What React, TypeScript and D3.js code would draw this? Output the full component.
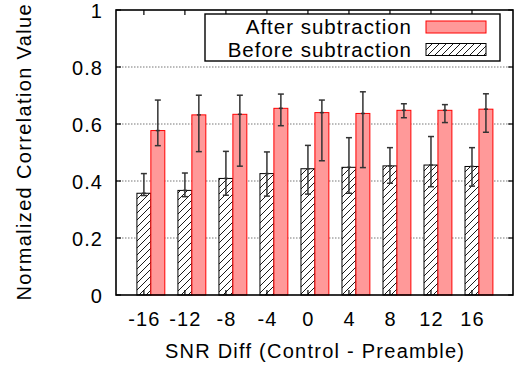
import { useEffect, useRef } from "react";
import * as d3 from "d3";

const categories = ["-16", "-12", "-8", "-4", "0", "4", "8", "12", "16"];

// after subtraction (red bars)
const afterValues = [0.577, 0.632, 0.634, 0.655, 0.64, 0.637, 0.648, 0.648, 0.652];
const afterLow = [0.524, 0.503, 0.452, 0.594, 0.471, 0.447, 0.622, 0.605, 0.571];
const afterHigh = [0.684, 0.701, 0.701, 0.705, 0.684, 0.713, 0.671, 0.668, 0.706];

// before subtraction (hatched bars)
const beforeValues = [0.357, 0.367, 0.409, 0.426, 0.443, 0.448, 0.453, 0.456, 0.451];
const beforeLow = [0.349, 0.345, 0.35, 0.347, 0.354, 0.357, 0.392, 0.38, 0.382];
const beforeHigh = [0.426, 0.428, 0.504, 0.502, 0.525, 0.552, 0.517, 0.556, 0.517];

const yTicks = [0, 0.2, 0.4, 0.6, 0.8, 1];
const gridTicks = [0.2, 0.4, 0.6, 0.8];

const FONT = "'Liberation Sans', Arial, Helvetica, sans-serif";

export default function App() {
  const svgRef = useRef<SVGSVGElement>(null);

  useEffect(() => {
    if (!svgRef.current) return;
    const svg = d3.select(svgRef.current);
    svg.selectAll("*").remove();

    const left = 116;
    const right = 513;
    const top = 10;
    const bottom = 295;
    const barW = 0.34;

    const x = d3.scaleLinear().domain([-0.68, 9]).range([left, right]);
    const y = d3.scaleLinear().domain([0, 1]).range([bottom, top]);
    const bw = x(barW) - x(0);

    const defs = svg.append("defs");
    const pat = defs
      .append("pattern")
      .attr("id", "hatch")
      .attr("patternUnits", "userSpaceOnUse")
      .attr("width", 7)
      .attr("height", 7);
    pat.append("rect").attr("width", 7).attr("height", 7).attr("fill", "#fff");
    pat
      .append("path")
      .attr("d", "M-1,1 l2,-2 M0,7 l7,-7 M6,8 l2,-2")
      .attr("stroke", "#000")
      .attr("stroke-width", 0.9);

    // grid
    svg
      .selectAll(".grid")
      .data(gridTicks)
      .join("line")
      .attr("x1", left)
      .attr("x2", right)
      .attr("y1", (d) => y(d))
      .attr("y2", (d) => y(d))
      .attr("stroke", "#777")
      .attr("stroke-width", 1)
      .attr("stroke-dasharray", "1.5,1.5");

    const idx = categories.map((_, i) => i);

    // before bars (hatched)
    svg
      .selectAll(".before")
      .data(idx)
      .join("rect")
      .attr("x", (i) => x(i) - bw / 2)
      .attr("y", (i) => y(beforeValues[i]))
      .attr("width", bw)
      .attr("height", (i) => bottom - y(beforeValues[i]))
      .attr("fill", "url(#hatch)")
      .attr("stroke", "#000")
      .attr("stroke-width", 1);

    // after bars (red)
    svg
      .selectAll(".after")
      .data(idx)
      .join("rect")
      .attr("x", (i) => x(i) + bw / 2)
      .attr("y", (i) => y(afterValues[i]))
      .attr("width", bw)
      .attr("height", (i) => bottom - y(afterValues[i]))
      .attr("fill", "#ff9999")
      .attr("stroke", "#ff0000")
      .attr("stroke-width", 1);

    const errorBars = (
      cx: (i: number) => number,
      vals: number[],
      lo: number[],
      hi: number[]
    ) => {
      const g = svg.append("g").attr("stroke", "#333").attr("stroke-width", 1.5);
      idx.forEach((i) => {
        const c = cx(i);
        g.append("line").attr("x1", c).attr("x2", c).attr("y1", y(lo[i])).attr("y2", y(hi[i]));
        g.append("line").attr("x1", c - 3).attr("x2", c + 3).attr("y1", y(lo[i])).attr("y2", y(lo[i]));
        g.append("line").attr("x1", c - 3).attr("x2", c + 3).attr("y1", y(hi[i])).attr("y2", y(hi[i]));
        g.append("line").attr("x1", c - 2).attr("x2", c + 2).attr("y1", y(vals[i])).attr("y2", y(vals[i]));
      });
    };
    errorBars((i) => x(i), beforeValues, beforeLow, beforeHigh);
    errorBars((i) => x(i) + bw, afterValues, afterLow, afterHigh);

    // ticks (inward, all sides)
    const tk = svg.append("g").attr("stroke", "#000").attr("stroke-width", 1.2);
    yTicks.forEach((t) => {
      tk.append("line").attr("x1", left).attr("x2", left + 5).attr("y1", y(t)).attr("y2", y(t));
      tk.append("line").attr("x1", right).attr("x2", right - 5).attr("y1", y(t)).attr("y2", y(t));
    });
    idx.forEach((i) => {
      tk.append("line").attr("x1", x(i)).attr("x2", x(i)).attr("y1", bottom).attr("y2", bottom - 5);
      tk.append("line").attr("x1", x(i)).attr("x2", x(i)).attr("y1", top).attr("y2", top + 5);
    });

    // frame
    svg
      .append("rect")
      .attr("x", left)
      .attr("y", top)
      .attr("width", right - left)
      .attr("height", bottom - top)
      .attr("fill", "none")
      .attr("stroke", "#000")
      .attr("stroke-width", 1.6);

    const ls = 1.1;

    // tick labels
    svg
      .selectAll(".ylab")
      .data(yTicks)
      .join("text")
      .attr("x", 102 + ls)
      .attr("y", (d) => y(d) + 7.5)
      .attr("text-anchor", "end")
      .attr("font-family", FONT)
      .attr("font-size", 20)
      .attr("letter-spacing", ls)
      .attr("fill", "#000")
      .text((d) => (d === 0 || d === 1 ? String(d) : d.toFixed(1)));

    svg
      .selectAll(".xlab")
      .data(idx)
      .join("text")
      .attr("x", (i) => x(i) + ls / 2)
      .attr("y", 326)
      .attr("text-anchor", "middle")
      .attr("font-family", FONT)
      .attr("font-size", 20)
      .attr("letter-spacing", ls)
      .attr("fill", "#000")
      .text((i) => categories[i]);

    // axis titles
    svg
      .append("text")
      .attr("x", (left + right) / 2 + 0.6)
      .attr("y", 358)
      .attr("text-anchor", "middle")
      .attr("font-family", FONT)
      .attr("font-size", 20)
      .attr("letter-spacing", 1.25)
      .text("SNR Diff (Control - Preamble)");

    svg
      .append("text")
      .attr("transform", `translate(31,${(top + bottom) / 2 - 0.7}) rotate(-90)`)
      .attr("text-anchor", "middle")
      .attr("font-family", FONT)
      .attr("font-size", 20)
      .attr("letter-spacing", 1.35)
      .text("Normalized Correlation Value");

    // legend
    const lg = svg.append("g");
    lg.append("rect")
      .attr("x", 205)
      .attr("y", 14)
      .attr("width", 295)
      .attr("height", 47)
      .attr("fill", "#fff")
      .attr("stroke", "#000")
      .attr("stroke-width", 1.4);
    lg.append("text")
      .attr("x", 411 + 1)
      .attr("y", 34)
      .attr("text-anchor", "end")
      .attr("font-family", FONT)
      .attr("font-size", 20.5)
      .attr("letter-spacing", 1)
      .text("After subtraction");
    lg.append("text")
      .attr("x", 411 + 1)
      .attr("y", 57)
      .attr("text-anchor", "end")
      .attr("font-family", FONT)
      .attr("font-size", 20.5)
      .attr("letter-spacing", 1)
      .text("Before subtraction");
    lg.append("rect")
      .attr("x", 426)
      .attr("y", 21)
      .attr("width", 60)
      .attr("height", 12)
      .attr("fill", "#ff9999")
      .attr("stroke", "#ff0000")
      .attr("stroke-width", 1);
    lg.append("rect")
      .attr("x", 426)
      .attr("y", 43.5)
      .attr("width", 60)
      .attr("height", 12)
      .attr("fill", "url(#hatch)")
      .attr("stroke", "#000")
      .attr("stroke-width", 1);
  }, []);

  return (
    <svg
      ref={svgRef}
      width={519}
      height={371}
      style={{ position: "absolute", left: 0, top: 0, background: "#fff" }}
    />
  );
}
